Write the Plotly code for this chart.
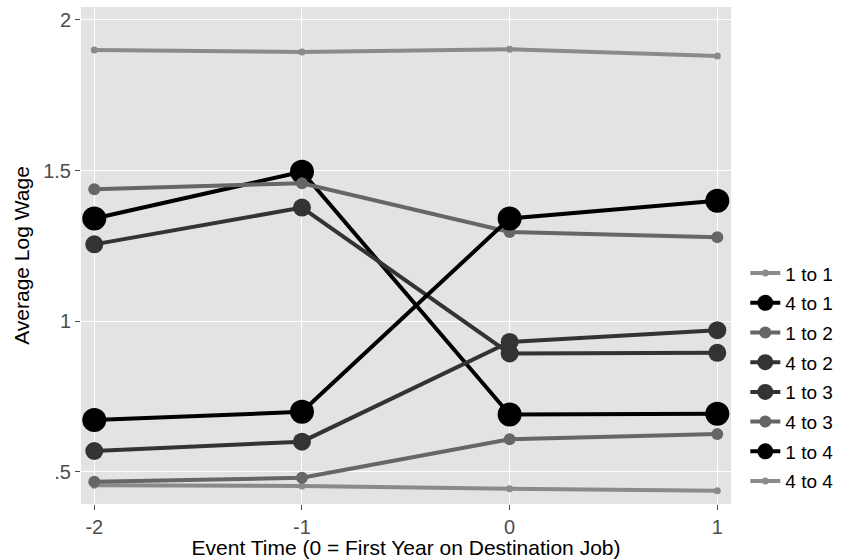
import plotly.graph_objects as go

# Event time relative to the first year on the destination job
event_time = [-2, -1, 0, 1]

# Average log wage by origin-to-destination quartile transition
series_names = ["1 to 1", "4 to 1", "1 to 2", "4 to 2", "1 to 3", "4 to 3", "1 to 4", "4 to 4"]
wage_1_to_1 = [0.455, 0.453, 0.444, 0.437]
wage_4_to_1 = [1.341, 1.496, 0.690, 0.693]
wage_1_to_2 = [0.467, 0.480, 0.608, 0.625]
wage_4_to_2 = [1.255, 1.377, 0.893, 0.895]
wage_1_to_3 = [0.569, 0.600, 0.931, 0.970]
wage_4_to_3 = [1.438, 1.458, 1.296, 1.279]
wage_1_to_4 = [0.672, 0.699, 1.341, 1.400]
wage_4_to_4 = [1.900, 1.894, 1.903, 1.880]

series_values = [wage_1_to_1, wage_4_to_1, wage_1_to_2, wage_4_to_2,
                 wage_1_to_3, wage_4_to_3, wage_1_to_4, wage_4_to_4]

# Shade and marker size grow with the size of the quartile jump
jump_style = {
    0: ("#8a8a8a", 7),
    1: ("#666666", 12),
    2: ("#333333", 18),
    3: ("#000000", 24),
}

x_ticks = [-2, -1, 0, 1]
x_tick_text = ["-2", "-1", "0", "1"]
y_ticks = [0.5, 1, 1.5, 2]
y_tick_text = [".5", "1", "1.5", "2"]

fig = go.Figure()
for name, values in zip(series_names, series_values):
    origin, dest = int(name[0]), int(name[-1])
    color, size = jump_style[abs(origin - dest)]
    fig.add_trace(go.Scatter(
        x=event_time, y=values, name=name, mode="lines+markers",
        legendgroup=name,
        line=dict(color=color, width=4),
        marker=dict(color=color, size=size),
    ))

font_family = "Liberation Sans, Arial, sans-serif"
fig.update_layout(
    template="none",
    width=845, height=559,
    margin=dict(l=81, r=112, t=7, b=55),
    paper_bgcolor="white",
    plot_bgcolor="#e3e3e3",
    font=dict(family=font_family, size=19, color="black"),
    showlegend=True,
    legend=dict(
        x=1.022, xanchor="left", y=0.255, yanchor="middle",
        font=dict(size=19, color="black"),
        bgcolor="rgba(0,0,0,0)",
        itemsizing="trace",
        traceorder="grouped", tracegroupgap=2,
    ),
    xaxis=dict(
        range=[-2.064, 1.066],
        tickvals=x_ticks, ticktext=x_tick_text,
        ticks="outside", ticklen=5, tickwidth=1, tickcolor="#4d4d4d",
        tickfont=dict(size=20, color="#4d4d4d"),
        showgrid=True, gridcolor="white", gridwidth=1.2,
        zeroline=False, showline=False, automargin=False,
        title=dict(text="Event Time (0 = First Year on Destination Job)",
                   font=dict(size=21, color="black")),
    ),
    yaxis=dict(
        range=[0.393, 2.043],
        tickvals=y_ticks, ticktext=y_tick_text,
        ticks="outside", ticklen=5, tickwidth=1, tickcolor="#4d4d4d",
        tickfont=dict(size=20, color="#4d4d4d"),
        showgrid=True, gridcolor="white", gridwidth=1.2,
        zeroline=False, showline=False, automargin=False,
        title=dict(text="Average Log Wage",
                   font=dict(size=21, color="black")),
    ),
)

fig.write_html("out.html")
